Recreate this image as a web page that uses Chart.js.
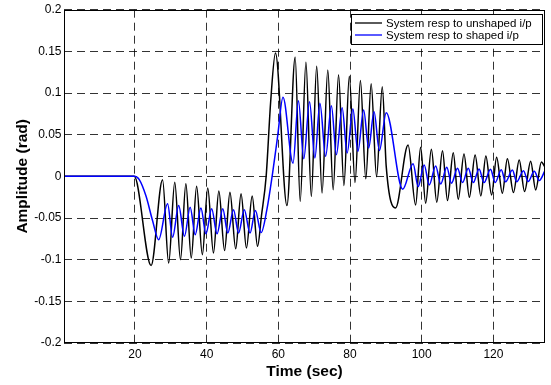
<!DOCTYPE html>
<html>
<head>
<meta charset="utf-8">
<script src="https://cdn.jsdelivr.net/npm/chart.js@4/dist/chart.umd.min.js"></script>
<style>
  body { margin: 0; background: #fff; }
  canvas { display: block; }
</style>
</head>
<body>
<canvas id="chart-area" width="551" height="385"></canvas>
<script>
// peaks and troughs (time in sec, amplitude in rad)
var unshapedT = [0.2, 19.8, 24.5, 27.7, 29.4, 31.1, 32.7, 34.2, 35.7, 37.2, 38.8, 40.3, 41.9, 43.4, 45.0, 46.5, 48.1, 49.6, 51.1, 52.7, 54.2,
	55.3, 56.6, 57.9, 59.2, 62.4, 64.7, 66.1, 67.7, 69.2, 70.7, 72.2, 73.8, 75.3, 76.8, 78.3, 79.8, 81.4, 82.9, 84.4, 85.9, 87.4, 89.0,
	90.1, 92.7, 96.2, 98.3, 99.7, 101.1, 102.7, 104.2, 105.8, 107.2, 108.8, 110.2, 111.8, 113.3, 114.9, 116.5, 117.9, 119.5, 120.9,
	122.5, 123.9, 125.6, 127.2, 128.7, 130.4, 131.8, 133.4, 134.4];
var unshapedV = [0, 0, -0.107, -0.004, -0.104, -0.007, -0.100, -0.009, -0.098, -0.012, -0.094, -0.014, -0.092, -0.0175, -0.089, -0.019, -0.087, -0.021, -0.086, -0.0235, -0.084,
	-0.047, 0.0, 0.092, 0.148, -0.035, 0.143, -0.030, 0.137, -0.024, 0.132, -0.020, 0.1275, -0.016, 0.122, -0.011, 0.120, -0.0075, 0.115, -0.003, 0.111, -0.0005, 0.1075,
	0.012, -0.038, 0.0376, -0.0343, 0.0349, -0.0322, 0.0325, -0.031, 0.0308, -0.029, 0.0284, -0.0274, 0.0268, -0.025, 0.0256, -0.0235, 0.0244, -0.0223, 0.0229,
	-0.0203, 0.0212, -0.0195, 0.0197, -0.0183, 0.0181, -0.0163, 0.0173, 0.011];

var shapedT = [0.2, 19.8, 21.2, 23.1, 24.9, 26.6, 29.1, 30.5, 32.2, 33.8, 35.4, 36.8, 38.4, 39.8, 41.4, 42.9, 44.5, 45.9, 47.5, 48.9, 50.5, 52.1, 53.6, 55.2,
	56.8, 58.4, 59.8, 61.3, 64.1, 65.6, 67.1, 68.7, 70.2, 71.6, 73.2, 74.8, 76.2, 77.8, 79.2, 80.8, 82.2, 83.8, 85.2, 86.7, 88.2, 90.1,
	94.7, 97.6, 99.0, 100.7, 102.1, 103.9, 105.3, 107.0, 108.3, 110.0, 111.4, 113.0, 114.4, 116.0, 117.4, 119.2, 120.5, 122.2, 123.4,
	125.3, 126.5, 128.4, 129.7, 131.4, 132.8, 134.4];
var shapedV = [0, 0, -0.004, -0.024, -0.053, -0.076, -0.033, -0.073, -0.035, -0.072, -0.037, -0.070, -0.038, -0.069, -0.039, -0.069, -0.039, -0.068, -0.040, -0.068, -0.040, -0.068, -0.041, -0.0675,
	-0.040, 0.004, 0.048, 0.095, 0.0157, 0.0907, 0.021, 0.0895, 0.022, 0.0876, 0.024, 0.0847, 0.026, 0.0823, 0.028, 0.0808, 0.030, 0.0796, 0.034, 0.0775, 0.031, 0.0764,
	-0.0155, 0.015, -0.0123, 0.0137, -0.0103, 0.0125, -0.0091, 0.011, -0.0083, 0.0098, -0.0075, 0.0098, -0.0075, 0.0088, -0.0075, 0.0085, -0.0075, 0.0080, -0.0065,
	0.0075, -0.0065, 0.0068, -0.0063, 0.0060, -0.0050, 0.0070];

var xTicks = [20, 40, 60, 80, 100, 120];
var yTicks = [-0.2, -0.15, -0.1, -0.05, 0, 0.05, 0.1, 0.15, 0.2];

function points(t, v) {
	return t.map(function (x, i) { return { x: x, y: v[i] }; });
}

Chart.defaults.font.family = '"Liberation Sans", Arial, sans-serif';
Chart.defaults.color = '#000';

// box round the axes plus a matlab style legend inside the plot
var frameAndLegend = {
	id: 'frameAndLegend',
	afterDraw: function (chart) {
		var ctx = chart.ctx, a = chart.chartArea;
		ctx.save();
		ctx.strokeStyle = '#000';
		ctx.lineWidth = 1;
		ctx.strokeRect(Math.round(a.left) + 0.5, Math.round(a.top) + 0.5,
			Math.round(a.right - a.left) - 1, Math.round(a.bottom - a.top) - 1);

		var sets = chart.data.datasets;
		ctx.font = '11.5px "Liberation Sans", Arial, sans-serif';
		var w = 0;
		sets.forEach(function (d) { w = Math.max(w, ctx.measureText(d.label).width); });
		var right = Math.round(a.right) - 3, top = Math.round(a.top) + 4;
		var boxW = Math.round(w + 45), boxH = sets.length * 12 + 6;
		var left = right - boxW;
		ctx.fillStyle = '#fff';
		ctx.fillRect(left, top, boxW, boxH);
		ctx.strokeRect(left + 0.5, top + 0.5, boxW, boxH);
		sets.forEach(function (d, i) {
			var y = top + 9 + i * 12;
			ctx.strokeStyle = d.borderColor;
			ctx.lineWidth = 1.3;
			ctx.beginPath();
			ctx.moveTo(left + 4, y);
			ctx.lineTo(left + 31, y);
			ctx.stroke();
			ctx.fillStyle = '#000';
			ctx.textBaseline = 'middle';
			ctx.textAlign = 'left';
			ctx.fillText(d.label, left + 35, y + 0.5);
		});
		ctx.restore();
	}
};

var config = {
	type: 'line',
	data: {
		datasets: [{
			label: 'System resp to unshaped i/p',
			data: points(unshapedT, unshapedV),
			borderColor: '#000000',
			borderWidth: 1.5,
			pointRadius: 0,
			cubicInterpolationMode: 'monotone',
			order: 2
		}, {
			label: 'System resp to shaped i/p',
			data: points(shapedT, shapedV),
			borderColor: '#0000ff',
			borderWidth: 1.5,
			pointRadius: 0,
			cubicInterpolationMode: 'monotone',
			order: 1
		}]
	},
	options: {
		responsive: false,
		animation: false,
		devicePixelRatio: 1,
		layout: { padding: { top: 9, right: 6, left: 0, bottom: 0 } },
		plugins: { legend: { display: false }, tooltip: { enabled: false } },
		scales: {
			x: {
				type: 'linear',
				min: 0.2,
				max: 134.4,
				afterBuildTicks: function (s) { s.ticks = xTicks.map(function (v) { return { value: v }; }); },
				afterFit: function (s) { s.height = 42; },
				ticks: { font: { size: 12 }, padding: 4, maxRotation: 0 },
				grid: { color: 'rgba(0,0,0,0.8)', lineWidth: 1, drawTicks: false },
				border: { display: false, dash: [8, 5] },
				title: { display: true, text: 'Time (sec)', font: { size: 15.5, weight: 'bold' }, padding: { top: 0, bottom: 4 } }
			},
			y: {
				min: -0.2,
				max: 0.2,
				afterBuildTicks: function (s) { s.ticks = yTicks.map(function (v) { return { value: v }; }); },
				afterFit: function (s) { s.width = 64; },
				ticks: { font: { size: 12 }, padding: 2.5, callback: function (v) { return String(v); } },
				grid: { color: 'rgba(0,0,0,0.8)', lineWidth: 1, drawTicks: false },
				border: { display: false, dash: [8, 5] },
				title: { display: true, text: 'Amplitude (rad)', font: { size: 15.5, weight: 'bold' }, padding: { top: 13, bottom: 0 } }
			}
		}
	},
	plugins: [frameAndLegend]
};

var ctx = document.getElementById('chart-area').getContext('2d');
window.myChart = new Chart(ctx, config);
</script>
</body>
</html>
